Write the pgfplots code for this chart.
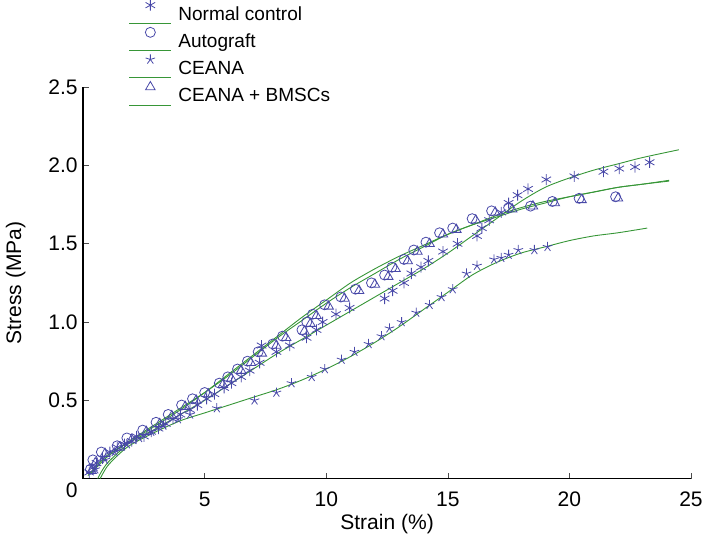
\documentclass[border=0pt]{standalone}
\usepackage{pgfplots}
\pgfplotsset{compat=1.18}
\usepackage{fontspec}
\setmainfont{Liberation Sans}
\definecolor{mblue}{RGB}{72,72,168}
\definecolor{lgreen}{RGB}{55,150,55}
\begin{document}
\begin{tikzpicture}
\begin{axis}[
  scale only axis,
  width=607pt, height=391pt,
  xmin=0, xmax=25, ymin=0, ymax=2.5,
  axis lines=left,
  axis line style={-, black, line width=1.3pt},
  tick style={black!70, line width=0.6pt},
  tick align=inside,
  major tick length=6pt,
  xtick={5,10,15,20,25}, xticklabels={5,10,15,20,25},
  ytick={0.5,1,1.5,2,2.5}, yticklabels={0.5,1.0,1.5,2.0,2.5},
  extra y ticks={0}, extra y tick labels={0},
  extra y tick style={major tick length=0pt, yticklabel style={yshift=-12pt}},
  ticklabel style={font=\fontsize{21}{25}\selectfont},
  xticklabel style={yshift=-10pt},
  yticklabel style={xshift=-2pt},
  label style={font=\fontsize{21}{25}\selectfont},
  xlabel={Strain (\%)}, ylabel={Stress (MPa)},
  xlabel style={yshift=0pt},
  ylabel style={yshift=16pt},
  clip=false,
  legend style={at={(0.070,1.229)}, anchor=north west, draw=none, fill=none,
    font=\fontsize{19}{22}\selectfont, row sep=3.5pt},
  legend cell align=left,
]
% lines
\addplot[lgreen, line width=0.9pt, smooth, forget plot] coordinates {
(0.2,0.02) (1,0.15) (2,0.24) (3,0.32) (4,0.41) (5,0.5) (6,0.6) (7,0.7) (8,0.8) (9,0.89) (10,0.98) (11,1.07) (12,1.16) (13,1.25) (14,1.34) (15,1.44) (16,1.55) (17,1.66) (18,1.77) (19,1.86) (20,1.92) (21,1.97) (22,2.01) (23,2.05) (24.5,2.10)};
\addplot[lgreen, line width=0.9pt, smooth, forget plot] coordinates {
(0.3,0.03) (1,0.14) (2,0.25) (3,0.35) (4,0.45) (5,0.55) (6,0.66) (7,0.78) (8,0.9) (9,1.01) (10,1.12) (11,1.22) (12,1.31) (13,1.40) (14,1.48) (15,1.56) (16,1.62) (17,1.68) (18,1.73) (19,1.77) (20,1.80) (21,1.83) (22,1.86) (23,1.88) (24.1,1.90)};
\addplot[lgreen, line width=0.9pt, smooth, forget plot] coordinates {
(0.6,0) (1,0.1) (2,0.24) (3,0.34) (4,0.44) (5,0.55) (6,0.67) (7,0.79) (8,0.91) (9,1.03) (10,1.14) (11,1.25) (12,1.34) (13,1.42) (14,1.49) (15,1.56) (16,1.62) (17,1.67) (18,1.72) (19,1.76) (20,1.80) (21,1.83) (22,1.86) (23,1.88) (24.1,1.905)};
\addplot[lgreen, line width=0.9pt, smooth, forget plot] coordinates {
(0.7,0) (1.0,0.08) (1.5,0.16) (2,0.22) (3,0.3) (4,0.37) (5,0.42) (6,0.47) (7,0.52) (8,0.57) (9,0.63) (10,0.70) (11,0.78) (12,0.87) (13,0.97) (14,1.08) (15,1.19) (16,1.30) (17,1.38) (18,1.44) (19,1.48) (20,1.52) (21,1.55) (22,1.57) (23.2,1.60)};
% markers
\pgfplotsset{legend image code/.code={
  \path[draw=none, fill=none] (0pt,0pt) -- (47pt,0pt);
  \draw[draw=lgreen, color=lgreen, line width=0.9pt, solid] (0pt,-9pt) -- (42pt,-9pt);
  \draw[#1] plot coordinates {(21pt,9pt)};
}}
\addplot[only marks, mark=asterisk, mblue, mark size=5.5pt, line width=0.8pt] coordinates {
(0.25,0.04) (0.4,0.07) (0.55,0.1) (0.8,0.13) (1.1,0.17) (1.4,0.2) (1.7,0.22) (2.0,0.24) (2.2,0.27) (2.5,0.27) (2.8,0.3) (3.1,0.32) (3.4,0.35) (3.7,0.38) (4.0,0.41) (4.4,0.44) (4.7,0.47) (5.08,0.51) (5.4,0.54) (5.8,0.58) (6.1,0.61) (6.5,0.65) (6.85,0.69) (7.26,0.74) (7.34,0.85) (7.95,0.81) (8.5,0.85) (9.19,0.9) (9.6,0.95) (9.85,1.0) (10.4,1.05) (10.96,1.09) (12.4,1.15) (12.73,1.2) (13.2,1.25) (13.5,1.31) (13.9,1.35) (14.2,1.39) (14.8,1.45) (15.4,1.5) (16.2,1.55) (16.4,1.6) (16.7,1.65) (17.2,1.70) (17.5,1.76) (17.87,1.81) (18.3,1.85) (19.05,1.91) (20.2,1.93) (21.4,1.96) (22.05,1.98) (22.7,1.99) (23.3,2.02)};
\addlegendentry{Normal control}
\addplot[only marks, mark=o, mblue, mark size=5pt, line width=0.8pt] coordinates {
(0.3,0.06) (0.4,0.12) (0.75,0.17) (1.4,0.21) (1.8,0.26) (2.45,0.31) (3.0,0.36) (3.5,0.41) (4.05,0.47) (4.5,0.51) (5.0,0.55) (5.6,0.61) (5.95,0.65) (6.35,0.70) (6.76,0.75) (7.2,0.81) (7.8,0.86) (8.2,0.91) (9.0,0.95) (9.2,1.0) (9.44,1.05) (9.93,1.11) (10.6,1.16) (11.2,1.21) (11.86,1.25) (12.4,1.30) (12.7,1.35) (13.2,1.40) (13.6,1.46) (14.1,1.51) (14.66,1.57) (15.2,1.60) (16.0,1.66) (16.8,1.71) (17.5,1.73) (18.4,1.74) (19.3,1.77) (20.4,1.79) (21.9,1.80)};
\addlegendentry{Autograft}
\addplot[only marks, mark=star, mblue, mark size=5pt, line width=0.8pt] coordinates {
(0.5,0.06) (0.9,0.12) (1.3,0.17) (1.8,0.22) (2.3,0.26) (2.8,0.3) (3.3,0.34) (3.9,0.38) (4.4,0.41) (5.5,0.45) (7.05,0.5) (7.95,0.55) (8.57,0.61) (9.4,0.65) (9.94,0.70) (10.63,0.76) (11.16,0.81) (11.74,0.86) (12.27,0.91) (12.6,0.96) (13.1,1.0) (13.7,1.06) (14.25,1.11) (14.74,1.16) (15.2,1.21) (15.77,1.31) (16.2,1.36) (16.9,1.40) (17.2,1.41) (17.5,1.43) (17.9,1.46) (18.56,1.46) (19.1,1.48)};
\addlegendentry{CEANA}
\addplot[only marks, mark=triangle, mblue, mark size=5.5pt, line width=0.8pt] coordinates {
(0.35,0.05) (0.5,0.1) (0.9,0.16) (1.5,0.2) (2.0,0.25) (2.6,0.3) (3.15,0.35) (3.65,0.4) (4.2,0.46) (4.65,0.5) (5.15,0.54) (5.75,0.6) (6.1,0.64) (6.5,0.69) (6.9,0.74) (7.35,0.8) (7.95,0.85) (8.35,0.9) (9.1,0.94) (9.35,0.99) (9.6,1.04) (10.1,1.1) (10.75,1.15) (11.35,1.2) (12.0,1.24) (12.55,1.29) (12.85,1.34) (13.35,1.39) (13.75,1.45) (14.25,1.5) (14.8,1.56) (15.35,1.59) (16.15,1.65) (16.95,1.7) (17.65,1.72) (18.5,1.74) (19.4,1.76) (20.5,1.78) (22.0,1.79)};
\addlegendentry{CEANA + BMSCs}
\end{axis}
\pgfresetboundingbox
\path ([shift={(-83pt,-64pt)}]current axis.south west) rectangle ([shift={(19pt,87pt)}]current axis.north east);
\end{tikzpicture}
\end{document}
